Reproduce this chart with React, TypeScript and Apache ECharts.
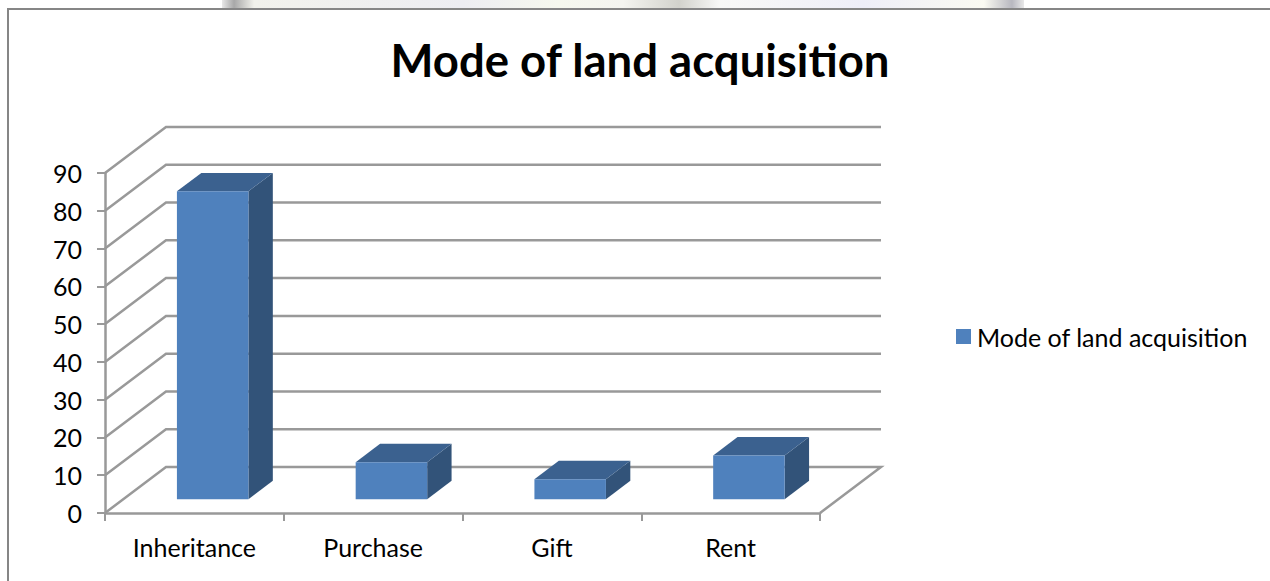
import React, { useEffect, useRef } from "react";
import * as echarts from "echarts";

const categories = ["Inheritance", "Purchase", "Gift", "Rent"];
const seriesName = "Mode of land acquisition";
const values = [81.5, 9.8, 5.3, 11.6];
const gridValues = [0, 10, 20, 30, 40, 50, 60, 70, 80, 90];

const FONT = "Lato";
const DX = 61;
const DY = -46;
const GRAY = "#999999";

export default function App() {
  const ref = useRef<HTMLDivElement>(null);
  useEffect(() => {
    const chart = echarts.init(ref.current!, null, { renderer: "svg" });
    chart.setOption({
      animation: false,
      backgroundColor: "#ffffff",
      title: {
        text: seriesName,
        left: 635,
        top: 31,
        textAlign: "center",
        textStyle: { fontFamily: FONT, fontSize: 45.5, fontWeight: "bold", color: "#000" },
      },
      legend: {
        left: 951,
        top: 319,
        icon: "rect",
        itemWidth: 15,
        itemHeight: 15,
        data: [{ name: seriesName, itemStyle: { color: "#4F81BD" } }],
        textStyle: { fontFamily: FONT, fontSize: 25, color: "#000", padding: [0, 0, 0, 1] },
      },
      grid: { left: 105, right: 450, top: 173, bottom: 68 },
      xAxis: {
        type: "category",
        data: categories,
        boundaryGap: true,
        axisLine: { show: true, lineStyle: { color: GRAY, width: 2.5 } },
        axisTick: { show: true, alignWithLabel: false, length: 8, lineStyle: { color: GRAY, width: 2 } },
        axisLabel: { fontFamily: FONT, fontSize: 25, color: "#000", margin: 21 },
        splitLine: { show: false },
        z: 5,
      },
      yAxis: {
        type: "value",
        min: 0,
        max: 90,
        interval: 10,
        axisLine: { show: true, lineStyle: { color: GRAY, width: 2.5 } },
        axisTick: { show: true, length: 8, lineStyle: { color: GRAY, width: 2 } },
        axisLabel: { fontFamily: FONT, fontSize: 25, color: "#000", margin: 23, padding: [5, 0, 0, 0] },
        splitLine: { show: false },
        z: 5,
      },
      graphic: [
        {
          type: "rect",
          silent: true,
          shape: { x: 222, y: 0, width: 802, height: 8 },
          style: {
            fill: new echarts.graphic.LinearGradient(0, 0, 1, 0, [
              { offset: 0, color: "#e8e8e8" },
              { offset: 0.015, color: "#a8a8a8" },
              { offset: 0.04, color: "#f2f2ec" },
              { offset: 0.3, color: "#ededf2" },
              { offset: 0.42, color: "#f6f8ee" },
              { offset: 0.5, color: "#f4f4f0" },
              { offset: 0.57, color: "#d2d2cc" },
              { offset: 0.62, color: "#f8f8f6" },
              { offset: 0.8, color: "#eeeef8" },
              { offset: 0.95, color: "#fafaf2" },
              { offset: 0.985, color: "#b8b8c0" },
              { offset: 1, color: "#e8e8e8" },
            ]),
          },
        },
        {
          type: "polyline",
          silent: true,
          shape: { points: [[8, 581], [8, 9], [1270, 9]] },
          style: { stroke: "#868686", lineWidth: 2, fill: "none" },
        },
      ],
      series: [
        {
          type: "custom",
          name: "Walls",
          silent: true,
          z: 1,
          coordinateSystem: "cartesian2d",
          data: gridValues.map((v) => [0, v]),
          encode: { x: 0, y: 1 },
          renderItem: (params: any, api: any) => {
            const v = api.value(1);
            const y = api.coord([0, v])[1];
            const g = params.coordSys;
            const x0 = g.x;
            const x1 = g.x + g.width;
            const pts =
              v === 0
                ? [[x0, y], [x0 + DX, y + DY], [x1 + DX, y + DY], [x1, y]]
                : [[x0, y], [x0 + DX, y + DY], [x1 + DX, y + DY]];
            return {
              type: "polyline",
              shape: { points: pts },
              style: { stroke: GRAY, lineWidth: 2.5, fill: "none" },
            };
          },
        },
        {
          type: "custom",
          name: seriesName,
          silent: true,
          z: 3,
          coordinateSystem: "cartesian2d",
          itemStyle: { color: "#4F81BD" },
          data: values.map((v, i) => [i, v]),
          encode: { x: 0, y: 1 },
          renderItem: (params: any, api: any) => {
            const i = api.value(0);
            const cx = api.coord([i, 0])[0];
            const band = api.size([1, 0])[0];
            const y0 = api.coord([i, 0])[1];
            const yt = api.coord([i, api.value(1)])[1];
            const w = band * 0.4;
            const ox = DX * 0.3;
            const oy = DY * 0.3;
            const dx = DX * 0.4;
            const dy = DY * 0.4;
            const l = cx - w / 2 + ox;
            const r = cx + w / 2 + ox;
            const b = y0 + oy;
            const t = yt + oy;
            return {
              type: "group",
              children: [
                {
                  type: "polygon",
                  shape: { points: [[r, b], [r + dx, b + dy], [r + dx, t + dy], [r, t]] },
                  style: { fill: "#325379" },
                },
                {
                  type: "polygon",
                  shape: { points: [[l, t], [l + dx, t + dy], [r + dx, t + dy], [r, t]] },
                  style: { fill: "#3B618F" },
                },
                {
                  type: "rect",
                  shape: { x: l, y: t, width: w, height: b - t },
                  style: { fill: "#4F81BD" },
                },
              ],
            };
          },
        },
      ],
    });
    return () => chart.dispose();
  }, []);
  return (
    <div
      ref={ref}
      style={{ position: "fixed", left: 0, top: 0, width: 1270, height: 581 }}
    />
  );
}
